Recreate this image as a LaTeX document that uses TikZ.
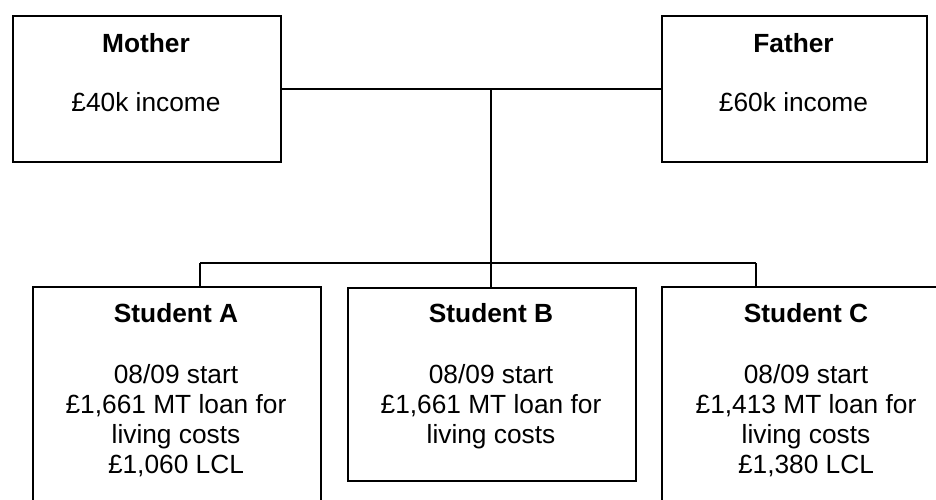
\documentclass[tikz,border=0pt]{standalone}
\usepackage{fontspec}
\setmainfont{Liberation Sans}
\begin{document}
\begin{tikzpicture}[x=1pt,y=-1pt,
  box/.style={draw, line width=1.5pt, inner sep=0pt, anchor=north west},
  conn/.style={line width=1.5pt},
  txt/.style={anchor=base, align=center, inner sep=0pt, font=\fontsize{26.3}{30}\selectfont}]
\useasboundingbox (0,0) rectangle (936,499);
\clip (0,0) rectangle (936,499);
% boxes
\node[box, minimum width=268pt, minimum height=146pt] (mother) at (12,15) {};
\node[box, minimum width=265pt, minimum height=146pt] (father) at (661,15) {};
\node[box, minimum width=288pt, minimum height=260pt] (sa) at (32,286) {};
\node[box, minimum width=288pt, minimum height=193pt] (sb) at (347,287) {};
\node[box, minimum width=290pt, minimum height=260pt] (sc) at (661,286) {};
% texts (base anchor = baseline of the last line)
\node[txt] (mt) at (146,52) {\bfseries Mother};
\node[txt] (mi) at (146,111) {£40k income};
\node[txt] (ft) at (793.5,52) {\bfseries Father};
\node[txt] (fi) at (793.5,111) {£60k income};
\node[txt] (at) at (176,322) {\bfseries Student A};
\node[txt] (ab) at (176,473) {08/09 start\\£1,661 MT loan for\\living costs\\£1,060 LCL};
\node[txt] (bt) at (491,322) {\bfseries Student B};
\node[txt] (bb) at (491,443) {08/09 start\\£1,661 MT loan for\\living costs};
\node[txt] (ct) at (806,322) {\bfseries Student C};
\node[txt] (cb) at (806,473) {08/09 start\\£1,413 MT loan for\\living costs\\£1,380 LCL};
% connectors
\coordinate (join) at (491,89);
\coordinate (bus) at (491,263);
\coordinate (busl) at (200,263);
\coordinate (busr) at (756,263);
\draw[conn] (mother.east) -- (father.west);
\draw[conn] (join) -- (bus);
\draw[conn] (busl) -- (busr);
\draw[conn] (busl) -- (busl |- sa.north);
\draw[conn] (bus) -- (bus |- sb.north);
\draw[conn] (busr) -- (busr |- sc.north);
\end{tikzpicture}
\end{document}
